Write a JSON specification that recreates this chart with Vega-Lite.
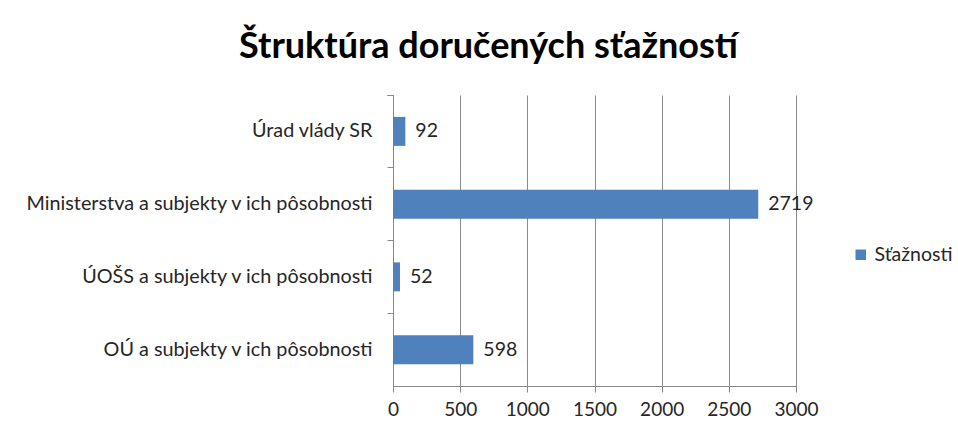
{
  "$schema": "https://vega.github.io/schema/vega-lite/v6.json",
  "autosize": "none",
  "width": 403,
  "height": 291,
  "padding": {"left": 393, "top": 95, "right": 162, "bottom": 46},
  "background": "white",
  "title": {
    "text": "Štruktúra doručených sťažností",
    "font": "Lato",
    "fontSize": 36,
    "fontWeight": "bold",
    "color": "#000000",
    "anchor": "middle",
    "dx": -106,
    "offset": 19
  },
  "data": {
    "values": [
      {"kategoria": "Úrad vlády SR", "hodnota": 92, "seria": "Sťažnosti"},
      {"kategoria": "Ministerstva a subjekty v ich pôsobnosti", "hodnota": 2719, "seria": "Sťažnosti"},
      {"kategoria": "ÚOŠS a subjekty v ich pôsobnosti", "hodnota": 52, "seria": "Sťažnosti"},
      {"kategoria": "OÚ a subjekty v ich pôsobnosti\u00a0", "hodnota": 598, "seria": "Sťažnosti"}
    ]
  },
  "encoding": {
    "y": {
      "field": "kategoria",
      "type": "nominal",
      "sort": null,
      "title": null,
      "scale": {"paddingInner": 0, "paddingOuter": 0},
      "axis": {
        "labelFont": "Lato",
        "labelFontSize": 19.8,
        "labelColor": "#262626",
        "labelPadding": 15,
        "labelLimit": 400,
        "tickSize": 6,
        "tickColor": "#888888",
        "domainColor": "#888888",
        "bandPosition": 0,
        "tickExtra": true,
        "grid": false
      }
    },
    "x": {
      "field": "hodnota",
      "type": "quantitative",
      "title": null,
      "scale": {"domain": [0, 3000], "nice": false},
      "axis": {
        "values": [0, 500, 1000, 1500, 2000, 2500, 3000],
        "format": "d",
        "labelFlush": false,
        "labelOverlap": false,
        "labelFont": "Lato",
        "labelFontSize": 19,
        "labelColor": "#262626",
        "labelPadding": 8,
        "tickSize": 6,
        "tickColor": "#888888",
        "domainColor": "#888888",
        "gridColor": "#8c8c8c",
        "grid": true
      }
    }
  },
  "layer": [
    {
      "mark": {"type": "bar", "size": 29, "color": "#4F81BD"},
      "encoding": {
        "color": {
          "field": "seria",
          "type": "nominal",
          "scale": {"range": ["#4F81BD"]},
          "legend": {
            "title": null,
            "orient": "none",
            "legendX": 458,
            "legendY": 150,
            "labelFont": "Lato",
            "labelFontSize": 19.5,
            "labelColor": "#262626",
            "symbolType": "square",
            "symbolSize": 110,
            "symbolStrokeWidth": 0
          }
        }
      }
    },
    {
      "mark": {"type": "text", "align": "left", "dx": 10, "font": "Lato", "fontSize": 19.5, "color": "#262626"},
      "encoding": {"text": {"field": "hodnota", "type": "quantitative"}}
    }
  ],
  "config": {"view": {"stroke": null}}
}
